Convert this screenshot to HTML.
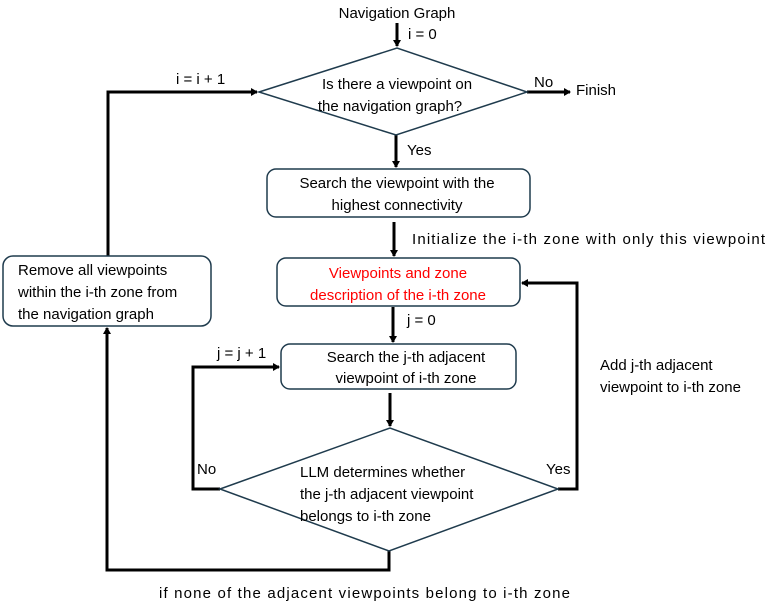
<!DOCTYPE html>
<html><head><style>html,body{margin:0;padding:0;background:#fff}</style></head>
<body>
<svg width="772" height="605" viewBox="0 0 772 605" xmlns="http://www.w3.org/2000/svg" font-family="Liberation Sans, sans-serif" font-size="15" fill="#000">
<defs>
<marker id="a" markerWidth="8" markerHeight="8" refX="6" refY="4" orient="auto" markerUnits="userSpaceOnUse">
<path d="M0,0 L7,4 L0,8 z" fill="#000"/>
</marker>
</defs>
<g stroke="#000" stroke-width="3" fill="none">
<line x1="397" y1="23" x2="397" y2="46" marker-end="url(#a)"/>
<line x1="527" y1="92" x2="570" y2="92" marker-end="url(#a)"/>
<line x1="396" y1="135" x2="396" y2="167" marker-end="url(#a)"/>
<line x1="394" y1="222" x2="394" y2="256" marker-end="url(#a)"/>
<line x1="393" y1="307" x2="393" y2="342" marker-end="url(#a)"/>
<line x1="390" y1="393" x2="390" y2="426" marker-end="url(#a)"/>
<polyline points="108,256 108,92 257,92" marker-end="url(#a)"/>
<polyline points="389,551 389,570 107,570 107,328" marker-end="url(#a)"/>
<polyline points="220,489 193,489 193,367 279,367" marker-end="url(#a)"/>
<polyline points="558,489 577,489 577,283 522,283" marker-end="url(#a)"/>
</g>
<g stroke="#1f3b4d" stroke-width="1.5" fill="#fff">
<polygon points="259,92 397,48 527,92 396,135"/>
<rect x="267" y="169" width="263" height="48" rx="9"/>
<rect x="277" y="258" width="243" height="48" rx="9"/>
<rect x="281" y="344" width="235" height="45" rx="9"/>
<rect x="3" y="256" width="208" height="70" rx="10"/>
<polygon points="220,489 390,428 558,489 389,551"/>
</g>
<text x="397" y="18" text-anchor="middle">Navigation Graph</text>
<text x="408" y="39">i = 0</text>
<text x="176" y="84">i = i + 1</text>
<text x="534" y="87">No</text>
<text x="576" y="95">Finish</text>
<text x="397" y="89" text-anchor="middle">Is there a viewpoint on</text>
<text x="390" y="111" text-anchor="middle">the navigation graph?</text>
<text x="407" y="155">Yes</text>
<text x="397" y="188" text-anchor="middle">Search the viewpoint with the</text>
<text x="397" y="210" text-anchor="middle">highest connectivity</text>
<text x="412" y="244" textLength="353">Initialize the i-th zone with only this viewpoint</text>
<text x="398" y="278" text-anchor="middle" fill="#ff0000">Viewpoints and zone</text>
<text x="398" y="300" text-anchor="middle" fill="#ff0000">description of the i-th zone</text>
<text x="407" y="325">j = 0</text>
<text x="217" y="358">j = j + 1</text>
<text x="406" y="362" text-anchor="middle">Search the j-th adjacent</text>
<text x="406" y="383" text-anchor="middle">viewpoint of i-th zone</text>
<text x="18" y="275">Remove all viewpoints</text>
<text x="18" y="297">within the i-th zone from</text>
<text x="18" y="319">the navigation graph</text>
<text x="600" y="370">Add j-th adjacent</text>
<text x="600" y="392">viewpoint to i-th zone</text>
<text x="197" y="474">No</text>
<text x="546" y="474">Yes</text>
<text x="300" y="477">LLM determines whether</text>
<text x="300" y="499">the j-th adjacent viewpoint</text>
<text x="300" y="521">belongs to i-th zone</text>
<text x="159" y="598" textLength="411">if none of the adjacent viewpoints belong to i-th zone</text>
</svg>
</body></html>
